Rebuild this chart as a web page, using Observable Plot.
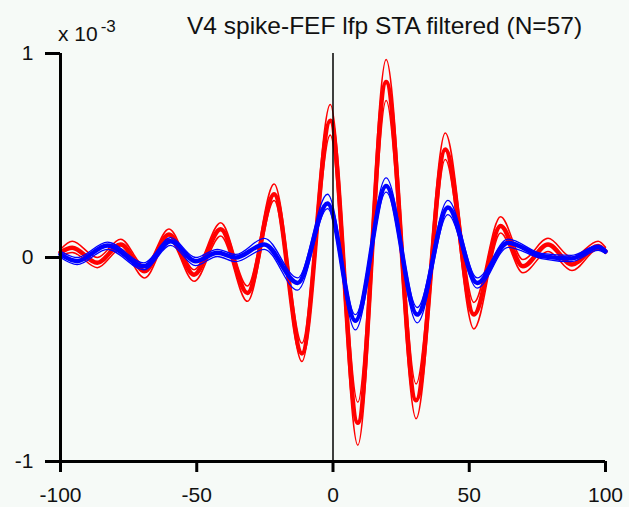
<!DOCTYPE html>
<html>
<head>
<meta charset="utf-8">
<script src="https://cdn.jsdelivr.net/npm/d3@7"></script>
<script src="https://cdn.jsdelivr.net/npm/@observablehq/plot@0.6"></script>
<style>
  html, body { margin: 0; padding: 0; background: #f6faf7; }
  #wrap { position: relative; width: 629px; height: 507px; font-family: "Liberation Sans", Arial, sans-serif; color: #111; }
  #title { position: absolute; left: 187px; top: 12px; font-size: 24.5px; line-height: 28px; white-space: nowrap; }
  #scale { position: absolute; left: 58px; top: 22px; font-size: 21px; line-height: 24px; white-space: nowrap; }
  #scale sup { font-size: 17px; position: relative; top: -9px; vertical-align: baseline; margin-left: 3px; }
</style>
</head>
<body>
<div id="wrap">
  <div id="chart"></div>
  <div id="title">V4 spike-FEF lfp STA filtered (N=57)</div>
  <div id="scale">x 10<sup>-3</sup></div>
</div>
<script>
// lag (ms) of the read points, and STA values (x 10^-3)
const redLag   = [-100, -95.7, -86.5, -77.9, -69.1, -60.2, -51, -41.2, -31.4, -21.6, -11.4, -1, 9.1, 19.5, 30.5, 41.2, 51.7, 61.5, 69.7, 78.9, 87.7, 97.3, 100];
const redMean  = [0.025, 0.048, -0.026, 0.064, -0.067, 0.113, -0.084, 0.138, -0.174, 0.31, -0.47, 0.67, -0.81, 0.86, -0.70, 0.53, -0.28, 0.154, -0.043, 0.064, -0.034, 0.056, 0.03];
const redUpper = [0.04, 0.08, 0.0, 0.09, -0.043, 0.14, -0.06, 0.17, -0.14, 0.36, -0.42, 0.75, -0.71, 0.97, -0.62, 0.61, -0.22, 0.20, -0.01, 0.094, 0.0, 0.08, 0.05];
const redLower = [0.01, 0.025, -0.05, 0.04, -0.1, 0.09, -0.117, 0.105, -0.215, 0.28, -0.51, 0.60, -0.92, 0.77, -0.79, 0.48, -0.35, 0.12, -0.075, 0.03, -0.064, 0.04, 0.02];

const blueLag   = [-100, -93.9, -82.8, -69.4, -59.6, -50.4, -42.4, -35.7, -25.2, -13, -2, 8.2, 19.5, 30.9, 42.2, 52.9, 64.2, 76.5, 87.5, 97.3, 100];
const blueMean  = [0.015, -0.018, 0.059, -0.043, 0.08, -0.018, 0.023, 0.0, 0.064, -0.125, 0.265, -0.31, 0.35, -0.28, 0.245, -0.125, 0.072, 0.007, -0.005, 0.05, 0.03];
const blueUpper = [0.03, 0.0, 0.075, -0.026, 0.097, 0.0, 0.04, 0.015, 0.094, -0.1, 0.31, -0.28, 0.39, -0.245, 0.28, -0.10, 0.09, 0.02, 0.01, 0.06, 0.04];
const blueLower = [0.0, -0.035, 0.04, -0.06, 0.059, -0.04, 0.005, -0.02, 0.04, -0.16, 0.24, -0.355, 0.32, -0.32, 0.21, -0.15, 0.05, -0.005, -0.02, 0.035, 0.02];

const xTicks = [-100, -50, 0, 50, 100];
const yTicks = [-1, 0, 1];

const series = (xs, ys) => xs.map((x, i) => ({x, y: ys[i]}));

const RED = "#ff0000", BLUE = "#0000ff";
const line = (xs, ys, color, w) => Plot.line(series(xs, ys), {x: "x", y: "y", stroke: color, strokeWidth: w, curve: "monotone-x"});

const chart = Plot.plot({
  width: 629,
  height: 507,
  marginLeft: 60,
  marginRight: 24,
  marginTop: 53,
  marginBottom: 46,
  style: {background: "#f6faf7", fontFamily: "Liberation Sans, Arial, sans-serif", fontSize: "21px", color: "#111"},
  x: {domain: [-100, 100]},
  y: {domain: [-1, 1]},
  marks: [
    line(redLag, redUpper, RED, 1.5),
    line(redLag, redLower, RED, 1.5),
    line(redLag, redMean, RED, 4.5),
    line(blueLag, blueUpper, BLUE, 1.3),
    line(blueLag, blueLower, BLUE, 1.3),
    line(blueLag, blueMean, BLUE, 4.5),
    Plot.ruleX([0], {y1: -1, y2: 1, stroke: "#000", strokeWidth: 1.5}),
    Plot.ruleX([-100], {y1: -1, y2: 1, stroke: "#000", strokeWidth: 3}),
    Plot.ruleY([-1], {x1: -100, x2: 100, stroke: "#000", strokeWidth: 3}),
    Plot.axisX({ticks: xTicks, tickSize: 11, tickPadding: 15, strokeWidth: 3, stroke: "#000", fontSize: 21, label: null, tickFormat: d => String(d)}),
    Plot.axisY({ticks: yTicks, tickSize: 15, tickPadding: 12, strokeWidth: 3, stroke: "#000", fontSize: 21, label: null, tickFormat: d => String(d)})
  ]
});
document.getElementById("chart").appendChild(chart);
</script>
</body>
</html>
